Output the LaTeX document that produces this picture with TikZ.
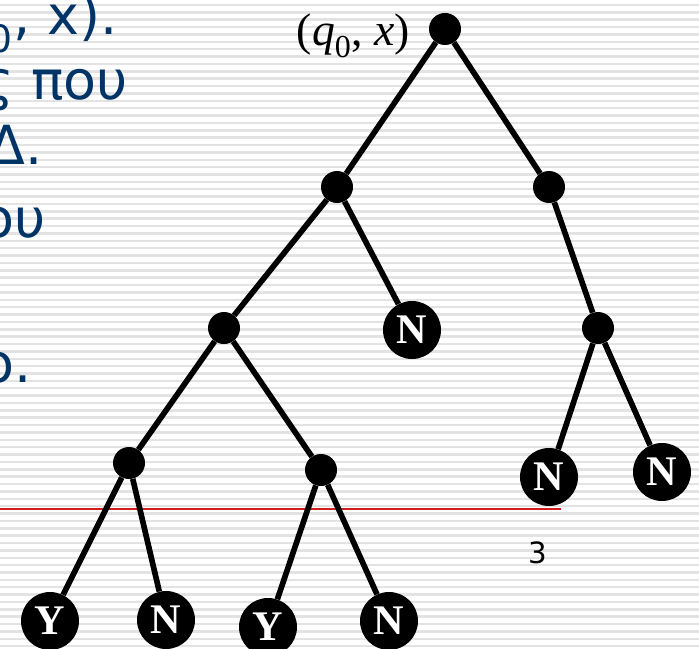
\documentclass[tikz,border=0pt]{standalone}
\usepackage{fontspec}
\setmainfont{Liberation Serif}
\newfontfamily\slidefont{DejaVu Sans}
\definecolor{slideblue}{RGB}{0,51,102}
\definecolor{rulered}{RGB}{210,30,30}
\tikzset{
  stripe/.style    = {gray!22,line width=0.075cm},
  treenode/.style  = {circle,fill=black,minimum size=0.96cm,inner sep=0pt},
  leafnode/.style  = {circle,fill=black,minimum size=1.74cm,inner sep=0pt,
                      text=white,font=\fontsize{36}{36}\selectfont\bfseries},
  branch/.style    = {line width=0.17cm},
  slidetext/.style = {anchor=base east,inner sep=0pt,text=slideblue,
                      font=\slidefont\fontsize{46}{46}\selectfont}
}

\begin{document}
\begin{tikzpicture}[x=0.03cm,y=-0.03cm]
  \useasboundingbox (0,0) rectangle (699,649);
  \clip (0,0) rectangle (699,649);
  \fill[white] (0,0) rectangle (699,649);
  \foreach \k in {0,...,88} {
    \draw[stripe] (0,{5+7.37*\k}) -- (699,{5+7.37*\k});
  }
  % slide text behind the figure
  \node[slidetext] (t1) at (118,35) {\textsubscript{0}, x).};
  \node[slidetext] (t2) at (128,100) {ς που};
  \node[slidetext] (t3) at (43,165) {Δ.};
  \node[slidetext] (t4) at (46,237) {ου};
  \node[slidetext] (t5) at (32,382) {ο.};
  \coordinate (rl) at (0,509);
  \coordinate (rr) at (561,509);
  \draw[rulered,line width=0.04cm] (rl) -- (rr);
  \node[font=\slidefont\fontsize{25}{25}\selectfont] (pg) at (538,553) {3};

  % computation tree
  \node[treenode] (root) at (445,29) {};
  \node[anchor=base east,inner sep=0pt,font=\fontsize{39}{39}\selectfont]
    (lbl) at (410,46) {(\textit{q}\textsubscript{0}, \textit{x})};
  \node[treenode] (a) at (337,187) {};
  \node[treenode] (b) at (549,187) {};
  \node[treenode] (c) at (224,328) {};
  \node[treenode] (d) at (598,328) {};
  \node[treenode] (e) at (129,463) {};
  \node[treenode] (f) at (321,470) {};
  \node[leafnode] (na) at (412,330) {N};
  \node[leafnode] (nb) at (549,477) {N};
  \node[leafnode] (nc) at (662,472) {N};
  \node[leafnode] (y1) at (50,621) {Y};
  \node[leafnode] (n1) at (166,620) {N};
  \node[leafnode] (y2) at (268,627) {Y};
  \node[leafnode] (n2) at (389,621) {N};
  \foreach \p/\q in {root/a,root/b,a/c,a/na,b/d,c/e,c/f,d/nb,d/nc,e/y1,e/n1,f/y2,f/n2} {
    \draw[branch] (\p) -- (\q);
  }
\end{tikzpicture}
\end{document}
